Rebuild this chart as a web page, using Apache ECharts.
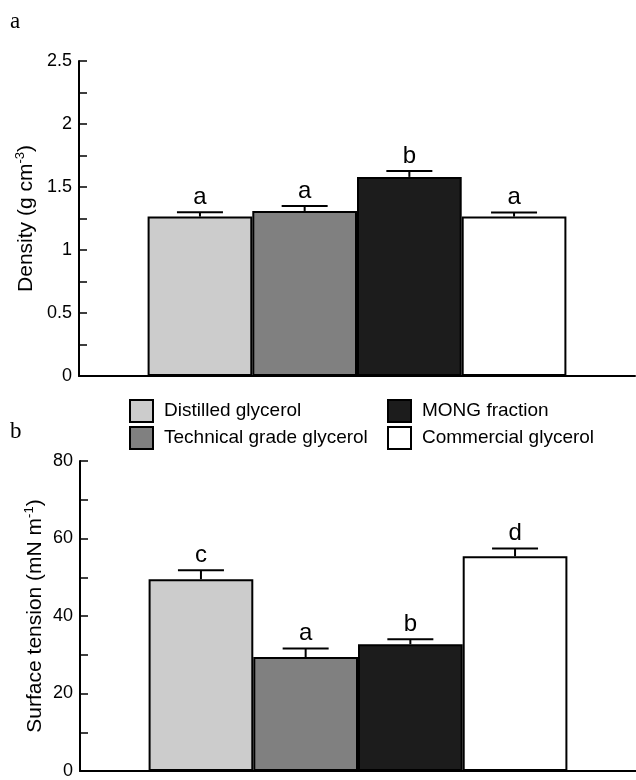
<!DOCTYPE html>
<html>
<head>
<meta charset="utf-8">
<script src="https://cdn.jsdelivr.net/npm/echarts@6/dist/echarts.min.js"></script>
<style>html,body{margin:0;padding:0;background:#fff}#c{width:636px;height:780px}</style>
</head>
<body>
<div id="c"></div>
<script>
// ---- data ----
const seriesNames = ['Distilled glycerol', 'Technical grade glycerol', 'MONG fraction', 'Commercial glycerol'];
const seriesColors = ['#cccccc', '#808080', '#1c1c1c', '#ffffff'];
const densityMean = [1.265, 1.31, 1.58, 1.265];
const densityUpper = [1.30, 1.35, 1.627, 1.297];
const densityLetters = ['a', 'a', 'b', 'a'];
const tensionMean = [49.5, 29.4, 32.7, 55.4];
const tensionUpper = [51.8, 31.6, 34.0, 57.4];
const tensionLetters = ['c', 'a', 'b', 'd'];
const densityTicks = { min: 0, max: 2.5, step: 0.25, labelStep: 0.5 };
const tensionTicks = { min: 0, max: 80, step: 10, labelStep: 20 };

// ---- style ----
const FONT = '"Liberation Sans", Arial, sans-serif';
const BAR_W = 104.7;
const CAP_HALF = 23;

const chart = echarts.init(document.getElementById('c'), null, { renderer: 'canvas' });

function yAxisFor(idx, t, nameRich, gap) {
  return {
    gridIndex: idx, type: 'value', min: t.min, max: t.max, interval: t.step,
    splitLine: { show: false },
    axisLine: { show: true, lineStyle: { color: '#000', width: 2 } },
    axisTick: { show: true, inside: true, length: 8, lineStyle: { color: '#000', width: 1.5 } },
    axisLabel: {
      color: '#000', fontSize: 18, fontFamily: FONT, margin: 7,
      formatter: v => {
        const r = v / t.labelStep;
        return Math.abs(r - Math.round(r)) < 1e-6 ? String(+v.toFixed(2)) : '';
      }
    },
    name: nameRich, nameLocation: 'middle', nameGap: gap, nameRotate: 90,
    nameMoveOverlap: false,
    nameTextStyle: {
      color: '#000',
      rich: {
        n: { fontSize: 21, fontFamily: FONT, color: '#000', lineHeight: 24 },
        s: { fontSize: 13, fontFamily: FONT, color: '#000', verticalAlign: 'top', lineHeight: 24 }
      }
    }
  };
}

function xAxisFor(idx) {
  return {
    gridIndex: idx, type: 'category', data: [''],
    axisLine: { show: true, lineStyle: { color: '#000', width: 2 } },
    axisTick: { show: false }, axisLabel: { show: false }, splitLine: { show: false }
  };
}

function barSeries(idx, values) {
  return seriesNames.map((n, i) => ({
    name: n, type: 'bar', xAxisIndex: idx, yAxisIndex: idx,
    data: [values[i]], barWidth: BAR_W, barGap: '0%',
    itemStyle: { color: seriesColors[i], borderColor: '#000', borderWidth: 2 },
    emphasis: { disabled: true }, silent: true
  }));
}

function errSeries(idx, mean, upper, letters) {
  return {
    type: 'custom', xAxisIndex: idx, yAxisIndex: idx, z: 10, silent: true,
    data: mean.map((m, i) => [0, i, m, upper[i]]),
    encode: { x: 0, y: 3 },
    renderItem: (params, api) => {
      const i = api.value(1);
      const base = api.coord([0, api.value(2)]);
      const top = api.coord([0, api.value(3)]);
      const x = base[0] + (i - 1.5) * BAR_W;
      return {
        type: 'group',
        children: [
          { type: 'line', shape: { x1: x, y1: base[1], x2: x, y2: top[1] }, style: { stroke: '#000', lineWidth: 2 } },
          { type: 'line', shape: { x1: x - CAP_HALF, y1: top[1], x2: x + CAP_HALF, y2: top[1] }, style: { stroke: '#000', lineWidth: 2 } },
          { type: 'text', x: x, y: top[1] - 3, style: { text: letters[params.dataIndex], fill: '#000', font: '24px ' + FONT, textAlign: 'center', textVerticalAlign: 'bottom' } }
        ]
      };
    }
  };
}

const legendBase = {
  orient: 'vertical', padding: 0, itemWidth: 23, itemHeight: 22, itemGap: 3, icon: 'rect', selectedMode: false,
  itemStyle: { borderColor: '#000', borderWidth: 2 },
  textStyle: { fontSize: 19, lineHeight: 22, fontFamily: FONT, color: '#000', padding: [0, 0, 0, 6] }
};

chart.setOption({
  animation: false,
  backgroundColor: '#fff',
  grid: [
    { left: 79, top: 61, width: 556, height: 315 },
    { left: 80, top: 461, width: 559, height: 313 }
  ],
  xAxis: [xAxisFor(0), xAxisFor(1)],
  yAxis: [
    yAxisFor(0, densityTicks, '{n|Density (g cm}{s|-3}{n|)}', 41),
    yAxisFor(1, tensionTicks, '{n|Surface tension (mN m}{s|-1}{n|)}', 33)
  ],
  legend: [
    Object.assign({}, legendBase, { left: 129, top: 399, data: seriesNames.slice(0, 2) }),
    Object.assign({}, legendBase, { left: 387, top: 399, data: seriesNames.slice(2, 4) })
  ],
  graphic: [
    { type: 'text', left: 10, top: 10, style: { text: 'a', font: '23px "Liberation Serif", serif', fill: '#000' } },
    { type: 'text', left: 10, top: 420, style: { text: 'b', font: '23px "Liberation Serif", serif', fill: '#000' } }
  ],
  series: [
    ...barSeries(0, densityMean),
    errSeries(0, densityMean, densityUpper, densityLetters),
    ...barSeries(1, tensionMean),
    errSeries(1, tensionMean, tensionUpper, tensionLetters)
  ]
});
</script>
</body>
</html>
